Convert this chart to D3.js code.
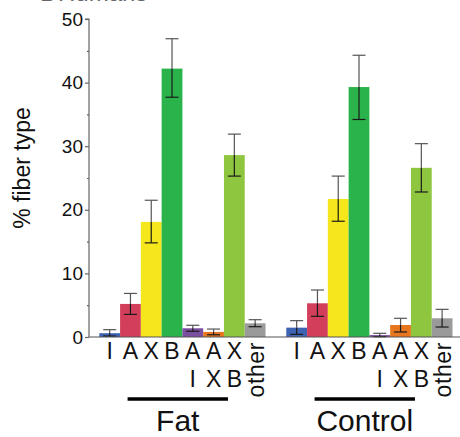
<!DOCTYPE html>
<html>
<head>
<meta charset="utf-8">
<script src="https://cdn.jsdelivr.net/npm/d3@7"></script>
<style>
  html, body { margin: 0; padding: 0; background: #fff; }
  svg { display: block; font-family: "Liberation Sans", Arial, Helvetica, sans-serif; }
</style>
</head>
<body>
<svg id="chart" width="460" height="437"></svg>
<script>
// ---- data ----
const groups = ["Fat", "Control"];
const categories = ["I", "A", "X", "B", "AI", "AX", "XB", "other"];
const labelRow1 = ["I", "A", "X", "B", "A", "A", "X", ""];
const labelRow2 = ["", "", "", "", "I", "X", "B", ""];
const colors = ["#3d63b2", "#d33f5b", "#f6e71c", "#2bb34b", "#7b4fa0", "#e8761f", "#8fc640", "#9a9a9a"];

const fatMean = [0.6, 5.2, 18.1, 42.2, 1.37, 0.8, 28.6, 2.15];
const fatHi   = [1.15, 6.85, 21.5, 46.9, 1.84, 1.25, 31.9, 2.72];
const fatLo   = [0.15, 3.55, 14.8, 37.7, 0.9, 0.35, 25.3, 1.62];

const ctrlMean = [1.47, 5.3, 21.7, 39.3, 0.3, 1.89, 26.6, 2.94];
const ctrlHi   = [2.57, 7.39, 25.3, 44.3, 0.58, 2.94, 30.4, 4.35];
const ctrlLo   = [0.42, 3.25, 18.2, 34.2, 0.05, 0.79, 22.8, 1.57];

const yTicks = [0, 10, 20, 30, 40, 50];
const yMinorTicks = [5, 15, 25, 35, 45];

const seriesByGroup = {
  Fat: { mean: fatMean, hi: fatHi, lo: fatLo },
  Control: { mean: ctrlMean, hi: ctrlHi, lo: ctrlLo }
};

// ---- layout ----
const svg = d3.select("#chart");
const axisX = 89, y0 = 337, yTop = 19;

const y = d3.scaleLinear().domain([0, 50]).range([y0, yTop]);
const xGroup = d3.scaleBand().domain(groups).range([99.3, 452.5]).paddingInner(1 / 9).paddingOuter(0);
const xCat = d3.scaleBand().domain(categories).range([0, xGroup.bandwidth()]).padding(0);

// cut-off title at top (only its lower edge is visible in the reference)
svg.append("text").attr("x", 40).attr("y", 0.6).attr("font-size", 24).attr("fill", "#666").text("B");
svg.append("text").attr("x", 58).attr("y", 0.6).attr("font-size", 24).attr("fill", "#666").text("Humans");

// bars + error bars
groups.forEach(g => {
  const s = seriesByGroup[g];
  const gx = xGroup(g);
  const gg = svg.append("g").attr("transform", `translate(${gx},0)`);
  const data = categories.map((c, i) => ({ c, i, mean: s.mean[i], hi: s.hi[i], lo: s.lo[i] }));
  gg.selectAll("rect").data(data).join("rect")
    .attr("x", d => xCat(d.c))
    .attr("width", xCat.bandwidth())
    .attr("y", d => y(d.mean))
    .attr("height", d => y0 - y(d.mean))
    .attr("fill", d => colors[d.i]);

  const cap = 6.5;
  const cx = d => xCat(d.c) + xCat.bandwidth() / 2;
  const eb = gg.selectAll("g.eb").data(data).join("g").attr("class", "eb");
  eb.append("line")
    .attr("x1", cx).attr("x2", cx)
    .attr("y1", d => y(d.hi)).attr("y2", d => y(d.mean))
    .attr("stroke", "#555").attr("stroke-width", 1.2);
  eb.append("line")
    .attr("x1", d => cx(d) - cap).attr("x2", d => cx(d) + cap)
    .attr("y1", d => y(d.hi)).attr("y2", d => y(d.hi))
    .attr("stroke", "#555").attr("stroke-width", 1.2);
  eb.append("line")
    .attr("x1", cx).attr("x2", cx)
    .attr("y1", d => y(d.mean)).attr("y2", d => y(d.lo))
    .attr("stroke", "#1a1a1a").attr("stroke-width", 1.2);
  eb.append("line")
    .attr("x1", d => cx(d) - cap).attr("x2", d => cx(d) + cap)
    .attr("y1", d => y(d.lo)).attr("y2", d => y(d.lo))
    .attr("stroke", "#1a1a1a").attr("stroke-width", 1.2);

  // category labels
  const lab = svg.append("g").attr("transform", `translate(${gx},0)`)
    .attr("font-size", 23).attr("fill", "#111").attr("text-anchor", "middle");
  lab.selectAll("text.r1").data(categories).join("text").attr("class", "r1")
    .attr("x", c => xCat(c) + xCat.bandwidth() / 2)
    .attr("y", 359)
    .text((c, i) => labelRow1[i]);
  lab.selectAll("text.r2").data(categories).join("text").attr("class", "r2")
    .attr("x", c => xCat(c) + xCat.bandwidth() / 2)
    .attr("y", 387)
    .text((c, i) => labelRow2[i]);
  const oc = xCat("other") + xCat.bandwidth() / 2;
  lab.append("text")
    .attr("transform", `translate(${oc + 8.5},${342}) rotate(-90)`)
    .attr("text-anchor", "end")
    .attr("letter-spacing", 0.6)
    .attr("font-size", 23)
    .text("other");

  // group underline + name
  const lx1 = xGroup(g) + xCat("A") + 7.5;
  const lx2 = xGroup(g) + xCat("XB") + 4;
  svg.append("line").attr("x1", lx1).attr("x2", lx2).attr("y1", 399).attr("y2", 399)
    .attr("stroke", "#000").attr("stroke-width", 3.5);
  svg.append("text").attr("x", (lx1 + lx2) / 2).attr("y", 431)
    .attr("text-anchor", "middle").attr("font-size", 30).attr("fill", "#111").text(g);
});

// baseline
svg.append("line").attr("x1", axisX).attr("x2", 460).attr("y1", y0).attr("y2", y0)
  .attr("stroke", "#555").attr("stroke-width", 1.2);

// y axis
const yAxis = d3.axisLeft(y).tickValues(yTicks).tickSize(4).tickPadding(2).tickFormat(d3.format("d"));
const ag = svg.append("g").attr("transform", `translate(${axisX},0)`).call(yAxis);
ag.select(".domain").attr("stroke", "#666").attr("stroke-width", 1.2).attr("d", `M-4,${yTop}H0V${y0}`);
ag.selectAll(".tick line").attr("stroke", "#666").attr("stroke-width", 1.2);
ag.selectAll(".tick text").attr("font-size", 19).attr("fill", "#111")
  .attr("font-family", "Liberation Sans, Arial, sans-serif");
const minor = d3.axisLeft(y).tickValues(yMinorTicks).tickSize(2).tickFormat("");
const mg = svg.append("g").attr("transform", `translate(${axisX},0)`).call(minor);
mg.select(".domain").remove();
mg.selectAll(".tick line").attr("stroke", "#666").attr("stroke-width", 1.2);

// y label
svg.append("text")
  .attr("transform", `translate(30,168) rotate(-90)`)
  .attr("text-anchor", "middle")
  .attr("font-size", 23).attr("fill", "#111")
  .text("% fiber type");
</script>
</body>
</html>
